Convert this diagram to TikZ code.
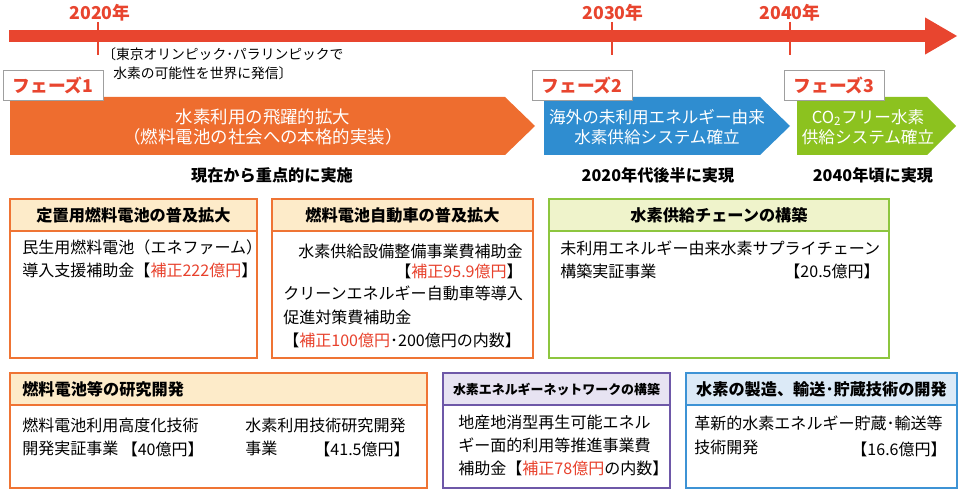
\documentclass[tikz,border=0pt]{standalone}
\usepackage{fontspec}
\setmainfont{Noto Sans CJK JP}
\usepackage{xcolor}
\usepackage{tikz}
\usetikzlibrary{arrows.meta, positioning, fit, calc}

\definecolor{tlred}{HTML}{E8452F}
\definecolor{phaseorange}{HTML}{EE6D2F}
\definecolor{phaseblue}{HTML}{2F8DD0}
\definecolor{phasegreen}{HTML}{8CC21F}
\definecolor{boxorange}{HTML}{EF7434}
\definecolor{headorange}{HTML}{FDEBC9}
\definecolor{boxgreen}{HTML}{8DC63F}
\definecolor{headgreen}{HTML}{EFF3CB}
\definecolor{boxpurple}{HTML}{6E58A8}
\definecolor{headpurple}{HTML}{E7E3F2}
\definecolor{boxblue}{HTML}{3D93D5}
\definecolor{headblue}{HTML}{DCEAF7}
\definecolor{moneyred}{HTML}{E8412C}

\tikzset{
  yearlabel/.style={inner sep=0pt, text=tlred, font=\fontsize{12.6}{14}\selectfont\bfseries},
  yeartick/.style={draw=tlred, line width=1.7pt},
  timeline/.style={draw=tlred, line width=8.5pt,
                   -{Triangle[length=0.8cm, width=0.93cm, line width=0pt]}},
  phasetag/.style={rectangle, draw=gray!75, fill=white, minimum width=2.5cm,
                   minimum height=0.75cm, inner sep=0pt, text=tlred,
                   font=\fontsize{12.6}{14}\selectfont\bfseries},
  phasetext/.style={text=white, align=center, inner sep=0pt,
                    font=\fontsize{11.8}{14.2}\selectfont},
  goaltext/.style={inner sep=0pt, font=\fontsize{11.5}{14}\selectfont\bfseries},
  notetext/.style={inner sep=0pt, align=left, font=\fontsize{9.8}{13.5}\selectfont},
  headtext/.style={inner sep=0pt, font=\fontsize{11.5}{14}\selectfont\bfseries},
  panel/.style={rectangle, draw, fill=white, line width=1.9pt, inner sep=0pt},
  bodytext/.style={inner sep=0pt, align=left, font=\fontsize{11.4}{16.4}\selectfont}
}

\begin{document}
\begin{tikzpicture}[x=0.025cm, y=-0.025cm]
  \useasboundingbox (0,0) rectangle (960,491);

  % Timeline with year marks
  \coordinate (tlstart) at (9,36);
  \coordinate (tlend) at (957,36);
  \draw[timeline] (tlstart) -- (tlend);
  \foreach \yr/\x/\lx in {2020/98/100, 2030/612/613, 2040/790/790} {
    \draw[yeartick] (\x,22) -- (\x,55);
    \node[yearlabel] (y\yr) at (\lx,13) {\yr 年};
  }
  \node[notetext, anchor=north west] (olympic) at (102,47)
    {〔東京オリンピック･パラリンピックで\\\hspace*{0.8em}水素の可能性を世界に発信〕};

  % Phase arrows
  \fill[phaseorange] (10,97) -- (505,97) -- (535,126) -- (505,155) -- (10,155) -- cycle;
  \fill[phaseblue] (544,97) -- (760,97) -- (790,126) -- (760,155) -- (544,155) -- cycle;
  \fill[phasegreen] (797,97) -- (927,97) -- (956,126) -- (927,155) -- (797,155) -- cycle;

  \node[phasetag] (tag1) at (53,85) {フェーズ1};
  \node[phasetag] (tag2) at (582,85) {フェーズ2};
  \node[phasetag] (tag3) at (834,85) {フェーズ3};

  \node[phasetext, font=\fontsize{12.4}{14.2}\selectfont] (p1text) at (263,127)
    {水素利用の飛躍的拡大\\（燃料電池の社会への本格的実装）};
  \node[phasetext] (p2text) at (657,127) {海外の未利用エネルギー由来\\水素供給システム確立};
  \node[phasetext] (p3text) at (868,127) {CO\textsubscript{2}フリー水素\\供給システム確立};

  \node[goaltext] (goal1) at (272,175) {現在から重点的に実施};
  \node[goaltext] (goal2) at (658,175) {2020年代後半に実現};
  \node[goaltext] (goal3) at (873,175) {2040年頃に実現};

  % Upper row of measures
  \node[panel, draw=boxorange, fit={(10,199) (257,358)}] (statpanel) {};
  \node[panel, draw=boxorange, fill=headorange, fit={(10,199) (257,231)}] (stathead) {};
  \node[headtext] (stattitle) at (stathead.center) {定置用燃料電池の普及拡大};
  \node[bodytext, anchor=north west] (statbody) at (22,239)
    {民生用燃料電池（エネファーム）\\導入支援補助金【\textcolor{moneyred}{補正222億円}】};

  \node[panel, draw=boxorange, fit={(272,199) (533,358)}] (fcvpanel) {};
  \node[panel, draw=boxorange, fill=headorange, fit={(272,199) (533,231)}] (fcvhead) {};
  \node[headtext] (fcvtitle) at (fcvhead.center) {燃料電池自動車の普及拡大};
  \node[bodytext, anchor=east] (fcvline1) at (523,251) {水素供給設備整備事業費補助金};
  \node[bodytext, anchor=east] (fcvcost1) at (523,271) {【\textcolor{moneyred}{補正95.9億円}】};
  \node[bodytext, anchor=north west] (fcvline2) at (283,286)
    {クリーンエネルギー自動車等導入\\促進対策費補助金\\【\textcolor{moneyred}{補正100億円}･200億円の内数】};

  \node[panel, draw=boxgreen, fit={(549,199) (889,358)}] (chainpanel) {};
  \node[panel, draw=boxgreen, fill=headgreen, fit={(549,199) (889,231)}] (chainhead) {};
  \node[headtext] (chaintitle) at (chainhead.center) {水素供給チェーンの構築};
  \node[bodytext, anchor=north west] (chainbody) at (560,241)
    {未利用エネルギー由来水素サプライチェーン\\構築実証事業};
  \node[bodytext, anchor=east] (chaincost) at (880,271) {【20.5億円】};

  % Lower row of measures
  \node[panel, draw=boxorange, fit={(10,373) (427,488)}] (rdpanel) {};
  \node[panel, draw=boxorange, fill=headorange, fit={(10,373) (427,405)}] (rdhead) {};
  \node[headtext, anchor=west] (rdtitle) at (22,389) {燃料電池等の研究開発};
  \node[bodytext, anchor=north west] (rdbody1) at (22,418) {燃料電池利用高度化技術\\開発実証事業};
  \node[bodytext, anchor=east] (rdcost1) at (204,449) {【40億円】};
  \node[bodytext, anchor=north west] (rdbody2) at (245,418) {水素利用技術研究開発\\事業};
  \node[bodytext, anchor=east] (rdcost2) at (410,449) {【41.5億円】};

  \node[panel, draw=boxpurple, fit={(443,373) (670,488)}] (netpanel) {};
  \node[panel, draw=boxpurple, fill=headpurple, fit={(443,373) (670,405)}] (nethead) {};
  \node[headtext, font=\fontsize{9.2}{12}\selectfont\bfseries] (nettitle) at (nethead.center)
    {水素エネルギーネットワークの構築};
  \node[bodytext, anchor=north west] (netbody) at (458,415)
    {地産地消型再生可能エネル\\ギー面的利用等推進事業費\\補助金【\textcolor{moneyred}{補正78億円}の内数】};

  \node[panel, draw=boxblue, fit={(686,373) (957,488)}] (techpanel) {};
  \node[panel, draw=boxblue, fill=headblue, fit={(686,373) (957,405)}] (techhead) {};
  \node[headtext] (techtitle) at (techhead.center) {水素の製造、輸送･貯蔵技術の開発};
  \node[bodytext, anchor=north west] (techbody) at (694,416) {革新的水素エネルギー貯蔵･輸送等\\技術開発};
  \node[bodytext, anchor=east] (techcost) at (947,449) {【16.6億円】};
\end{tikzpicture}
\end{document}
